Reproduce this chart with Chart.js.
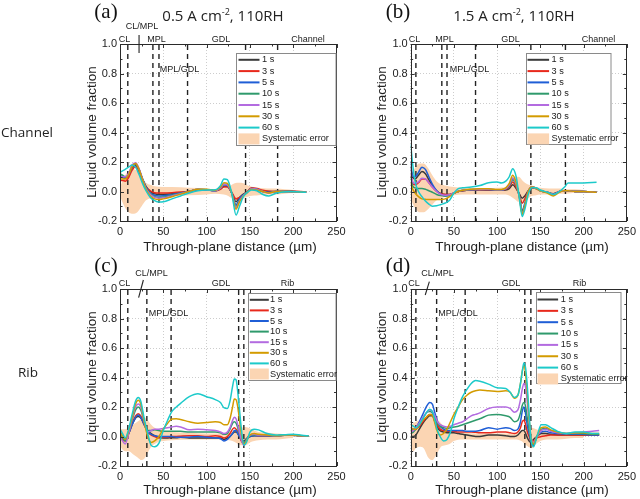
<!DOCTYPE html>
<html><head><meta charset="utf-8">
<script src="https://cdn.jsdelivr.net/npm/chart.js@4/dist/chart.umd.min.js"></script>
<style>
html,body{margin:0;padding:0;background:#fff;}
#wrap{position:relative;width:640px;height:499px;overflow:hidden;background:#fff;}
canvas{position:absolute;left:0;top:0;}
.t{position:absolute;transform:translate(-50%,-50%);white-space:nowrap;font-family:'Liberation Sans',Arial,sans-serif;color:#222;line-height:1;z-index:5;}
.pl{font-family:'Liberation Serif','Times New Roman',serif;font-size:21px;color:#111;}
.ti{font-family:'Open Sans',sans-serif;font-size:15px;color:#222;}
.ti span{font-size:9px;position:relative;top:-6px;}
.row{font-family:'Open Sans',sans-serif;font-size:13.5px;color:#222;}
.ax{font-size:13.5px;}
.yt{transform:translate(-50%,-50%) rotate(-90deg);}
.rg{font-size:9px;}
</style></head><body>
<div id="wrap">
<canvas id="ca" width="640" height="499"></canvas>
<canvas id="cb" width="640" height="499"></canvas>
<canvas id="cc" width="640" height="499"></canvas>
<canvas id="cd" width="640" height="499"></canvas>

<div class="t pl" style="left:106px;top:11px">(a)</div>
<div class="t pl" style="left:398px;top:11px">(b)</div>
<div class="t pl" style="left:106px;top:265px">(c)</div>
<div class="t pl" style="left:398px;top:265px">(d)</div>
<div class="t ti" style="left:223px;top:15px">0.5 A cm<span>-2</span>, 110RH</div>
<div class="t ti" style="left:514px;top:15px">1.5 A cm<span>-2</span>, 110RH</div>
<div class="t row" style="left:27px;top:133px">Channel</div>
<div class="t row" style="left:28px;top:373px">Rib</div>

<div class="t ax" style="left:230px;top:247px">Through-plane distance (µm)</div>
<div class="t ax" style="left:522px;top:247px">Through-plane distance (µm)</div>
<div class="t ax" style="left:230px;top:490px">Through-plane distance (µm)</div>
<div class="t ax" style="left:522px;top:490px">Through-plane distance (µm)</div>
<div class="t ax yt" style="left:92px;top:132px">Liquid volume fraction</div>
<div class="t ax yt" style="left:382px;top:132px">Liquid volume fraction</div>
<div class="t ax yt" style="left:92px;top:377px">Liquid volume fraction</div>
<div class="t ax yt" style="left:382px;top:377px">Liquid volume fraction</div>

<div class="t rg" style="left:124.5px;top:38.5px">CL</div>
<div class="t rg" style="left:142px;top:26px">CL/MPL</div>
<div class="t rg" style="left:156.5px;top:38.5px">MPL</div>
<div class="t rg" style="left:221px;top:38.5px">GDL</div>
<div class="t rg" style="left:308px;top:38.5px">Channel</div>
<div class="t rg" style="left:179.5px;top:69px">MPL/GDL</div>

<div class="t rg" style="left:414.5px;top:38.5px">CL</div>
<div class="t rg" style="left:444.5px;top:38.5px">MPL</div>
<div class="t rg" style="left:510.5px;top:38.5px">GDL</div>
<div class="t rg" style="left:598.5px;top:38.5px">Channel</div>
<div class="t rg" style="left:469.5px;top:69px">MPL/GDL</div>

<div class="t rg" style="left:124.5px;top:283px">CL</div>
<div class="t rg" style="left:151.5px;top:273px">CL/MPL</div>
<div class="t rg" style="left:221px;top:283px">GDL</div>
<div class="t rg" style="left:287.5px;top:283px">Rib</div>
<div class="t rg" style="left:168.5px;top:313px">MPL/GDL</div>

<div class="t rg" style="left:414px;top:283px">CL</div>
<div class="t rg" style="left:437.5px;top:273px">CL/MPL</div>
<div class="t rg" style="left:511px;top:283px">GDL</div>
<div class="t rg" style="left:579.5px;top:283px">Rib</div>
<div class="t rg" style="left:458px;top:313px">MPL/GDL</div>
</div>
<script>
// ---------- data ----------
const seriesNames = ['1 s','3 s','5 s','10 s','15 s','30 s','60 s'];
const bandName = 'Systematic error';
const xTicks = {min:0, max:250, step:50, minor:25};
const yTicks = {min:-0.2, max:1.0, step:0.2, minor:0.1};

// (a) channel, 0.5 A cm-2
const xA = [0,3,6,10,14,18,22,26,30,35,40,45,50,60,70,80,90,100,110,116,120,124,129,134,138,142,146,152,158,165,172,180,195,215];
const a1  = [0.10,0.095,0.09,0.11,0.16,0.175,0.14,0.085,0.035,0.0,-0.015,-0.02,-0.02,-0.015,-0.008,0.0,0.012,0.012,0.005,0.018,0.035,0.035,-0.01,-0.07,-0.04,-0.02,-0.005,0.02,0.015,0.0,0.0,0.0,0.0,-0.005];
const a3  = [0.075,0.075,0.07,0.095,0.145,0.17,0.135,0.075,0.03,0.005,-0.008,-0.01,-0.01,-0.008,-0.004,0.002,0.012,0.01,0.005,0.015,0.03,0.03,-0.005,-0.05,-0.04,-0.03,-0.01,0.025,0.02,0.008,0.002,0.0,0.005,-0.003];
const a5  = [0.11,0.10,0.095,0.115,0.165,0.185,0.15,0.085,0.03,-0.01,-0.025,-0.03,-0.028,-0.02,-0.01,0.0,0.014,0.012,0.005,0.022,0.045,0.04,-0.01,-0.09,-0.05,-0.025,-0.01,0.02,0.015,0.0,-0.005,0.0,0.0,-0.005];
const a10 = [0.12,0.11,0.10,0.12,0.17,0.19,0.15,0.085,0.025,-0.015,-0.035,-0.04,-0.038,-0.025,-0.012,0.0,0.015,0.012,0.005,0.025,0.05,0.045,-0.01,-0.10,-0.06,-0.03,-0.01,0.02,0.015,0.0,-0.008,0.0,0.0,-0.005];
const a15 = [0.10,0.10,0.10,0.125,0.18,0.195,0.155,0.085,0.02,-0.02,-0.04,-0.045,-0.043,-0.03,-0.015,0.0,0.015,0.012,0.005,0.025,0.05,0.045,-0.01,-0.11,-0.065,-0.03,-0.01,0.02,0.015,0.0,-0.01,0.0,0.0,-0.005];
const a30 = [0.085,0.085,0.085,0.115,0.17,0.19,0.15,0.08,0.015,-0.03,-0.05,-0.055,-0.05,-0.035,-0.018,0.0,0.016,0.015,0.008,0.03,0.06,0.055,-0.01,-0.12,-0.07,-0.035,-0.01,0.015,0.01,0.0,-0.01,0.0,0.0,-0.005];
const a60 = [0.13,0.14,0.15,0.165,0.18,0.165,0.115,0.055,0.005,-0.04,-0.062,-0.072,-0.07,-0.05,-0.03,-0.01,0.005,0.01,0.012,0.04,0.085,0.08,-0.01,-0.16,-0.10,-0.04,-0.01,0.01,0.005,-0.02,-0.03,-0.012,0.0,-0.005];
const bandAx  = [0,5,10,15,20,25,30,35,40,50,60,80,100,110,120,125,130,135,140,145,150,160,170,180,190,200];
const bandAlo = [-0.03,-0.1,-0.14,-0.15,-0.14,-0.1,-0.06,-0.045,-0.035,-0.03,-0.03,-0.025,-0.02,-0.015,-0.02,-0.03,-0.05,-0.06,-0.05,-0.04,-0.03,-0.025,-0.02,-0.02,-0.015,-0.01];
const bandAhi = [0.03,0.1,0.14,0.15,0.14,0.1,0.06,0.045,0.035,0.03,0.03,0.025,0.02,0.015,0.02,0.03,0.05,0.06,0.06,0.05,0.035,0.025,0.02,0.02,0.015,0.01];
const boundsA = [9,38,45,78,145,182];

// (b) channel, 1.5 A cm-2
const xB = [0,2,5,9,13,17,21,25,30,35,40,45,50,55,60,70,80,90,100,105,110,114,118,122,126,129,132,136,140,145,150,158,165,172,178,182,190,200,215];
const b1  = [0.17,0.1,0.085,0.11,0.135,0.12,0.08,0.04,0.005,-0.015,-0.02,-0.02,-0.01,0.0,0.005,0.01,0.012,0.01,0.008,0.008,0.01,0.02,0.045,0.02,-0.02,-0.045,-0.03,0.005,0.025,0.02,0.005,-0.005,-0.015,0.0,0.005,0.005,0.0,0.0,-0.005];
const b3  = [0.12,0.06,0.045,0.06,0.085,0.085,0.06,0.03,0.0,-0.015,-0.02,-0.02,-0.01,0.0,0.005,0.01,0.012,0.012,0.01,0.01,0.015,0.03,0.065,0.03,-0.03,-0.08,-0.05,0.0,0.025,0.02,0.005,-0.005,-0.02,0.0,0.005,0.005,0.0,0.0,-0.005];
const b5  = [0.2,0.11,0.1,0.13,0.165,0.15,0.1,0.05,0.005,-0.02,-0.03,-0.028,-0.012,0.0,0.006,0.012,0.014,0.014,0.01,0.01,0.02,0.04,0.09,0.05,-0.04,-0.13,-0.08,0.0,0.03,0.022,0.005,-0.005,-0.02,0.0,0.005,0.005,0.0,0.0,-0.005];
const b10 = [0.1,0.04,0.025,0.02,0.02,0.015,0.005,-0.005,-0.02,-0.028,-0.03,-0.025,-0.01,0.0,0.008,0.014,0.016,0.016,0.012,0.012,0.02,0.04,0.08,0.045,-0.04,-0.14,-0.09,0.0,0.03,0.022,0.005,-0.005,-0.02,0.0,0.005,0.005,0.0,0.0,-0.005];
const b15 = [0.15,0.07,0.055,0.065,0.09,0.085,0.06,0.03,0.0,-0.02,-0.025,-0.022,-0.01,0.0,0.008,0.014,0.016,0.016,0.012,0.012,0.02,0.045,0.09,0.05,-0.05,-0.15,-0.1,0.0,0.03,0.022,0.005,-0.005,-0.02,0.0,0.005,0.005,0.0,0.0,-0.005];
const b30 = [0.06,0.02,-0.01,-0.035,-0.05,-0.053,-0.055,-0.055,-0.055,-0.055,-0.05,-0.035,-0.012,0.0,0.008,0.015,0.018,0.018,0.014,0.014,0.025,0.055,0.11,0.06,-0.05,-0.155,-0.1,0.0,0.03,0.022,0.005,-0.01,-0.03,-0.005,0.005,0.005,0.0,0.0,-0.005];
const b60 = [0.32,0.2,0.07,0.0,-0.035,-0.065,-0.085,-0.1,-0.097,-0.088,-0.078,-0.06,-0.01,0.02,0.025,0.03,0.04,0.06,0.064,0.057,0.07,0.1,0.155,0.1,-0.06,-0.17,-0.12,-0.02,0.025,0.025,0.01,-0.005,-0.02,0.0,0.03,0.057,0.057,0.058,0.062];
const bandBx  = [0,3,6,10,15,20,25,30,35,40,50,60,80,100,110,115,120,125,130,135,140,145,150,160,170,180,190,200];
const bandBlo = [-0.05,-0.09,-0.12,-0.14,-0.14,-0.12,-0.09,-0.06,-0.045,-0.035,-0.025,-0.02,-0.02,-0.02,-0.02,-0.03,-0.05,-0.07,-0.07,-0.05,-0.03,-0.025,-0.02,-0.02,-0.015,-0.015,-0.01,-0.01];
const bandBhi = [0.1,0.14,0.17,0.19,0.19,0.16,0.11,0.07,0.05,0.04,0.03,0.025,0.02,0.025,0.03,0.06,0.1,0.1,0.07,0.05,0.04,0.03,0.025,0.02,0.02,0.015,0.015,0.01];
const boundsB = [6,36,42,75,139,179];

// (c) rib, 0.5 A cm-2
const xC = [0,3,6,10,14,18,21,24,28,32,36,40,45,50,55,60,65,70,80,90,100,110,116,120,124,127,130,132,134,136,138,140,143,146,150,155,160,170,180,190,200,210,218];
const c1  = [0.03,0.0,-0.02,0.02,0.08,0.125,0.135,0.125,0.08,0.04,0.02,0.005,-0.005,-0.01,-0.01,-0.008,-0.008,-0.005,-0.01,-0.01,-0.01,-0.01,-0.01,-0.02,-0.01,0.0,0.02,0.03,0.03,0.02,0.0,-0.02,-0.03,-0.015,0.0,0.005,0.005,0.005,0.005,0.008,0.008,0.005,0.005];
const c3  = [0.0,-0.02,-0.03,0.02,0.09,0.14,0.155,0.14,0.08,0.03,0.01,0.0,-0.01,-0.005,-0.003,0.0,0.0,0.002,0.005,0.005,0.0,0.005,0.0,-0.01,0.0,0.02,0.05,0.06,0.05,0.03,0.0,-0.03,-0.05,-0.02,0.005,0.008,0.005,0.005,0.005,0.008,0.008,0.005,0.005];
const c5  = [0.01,-0.01,-0.02,0.02,0.08,0.13,0.145,0.13,0.08,0.035,0.015,0.005,0.0,0.0,0.0,0.0,-0.005,-0.005,-0.005,0.0,-0.005,-0.01,-0.015,-0.03,-0.02,0.0,0.02,0.04,0.04,0.02,0.0,-0.02,-0.04,-0.02,0.0,0.005,0.005,0.005,0.005,0.008,0.008,0.005,0.005];
const c10 = [0.02,-0.01,-0.03,0.03,0.11,0.18,0.2,0.18,0.1,0.04,0.04,0.045,0.04,0.035,0.035,0.035,0.035,0.035,0.03,0.03,0.03,0.03,0.025,0.015,0.02,0.05,0.09,0.1,0.09,0.06,0.02,-0.02,-0.05,-0.02,0.01,0.01,0.01,0.008,0.005,0.01,0.01,0.005,0.005];
const c15 = [0.0,-0.03,-0.05,0.02,0.12,0.2,0.22,0.2,0.1,0.03,0.04,0.05,0.05,0.055,0.06,0.065,0.07,0.065,0.045,0.05,0.045,0.04,0.03,0.02,0.03,0.06,0.11,0.13,0.12,0.08,0.03,-0.02,-0.06,-0.03,0.01,0.015,0.01,0.01,0.005,0.01,0.01,0.005,0.005];
const c30 = [0.03,0.0,-0.02,0.04,0.13,0.22,0.245,0.22,0.1,0.0,-0.04,-0.03,0.0,0.05,0.09,0.118,0.12,0.115,0.1,0.09,0.095,0.1,0.095,0.08,0.08,0.12,0.2,0.255,0.25,0.2,0.11,0.02,-0.05,-0.03,0.01,0.02,0.015,0.01,0.005,0.01,0.01,0.005,0.005];
const c60 = [0.05,0.02,-0.01,0.05,0.15,0.24,0.265,0.24,0.12,0.02,-0.06,-0.07,-0.045,0.04,0.11,0.17,0.2,0.225,0.27,0.29,0.27,0.25,0.23,0.195,0.19,0.24,0.34,0.39,0.385,0.3,0.18,0.06,-0.06,-0.04,0.03,0.05,0.045,0.02,0.01,0.012,0.015,0.008,0.005];
const bandCx  = [0,3,6,10,15,20,25,28,32,36,40,45,50,60,80,100,120,126,130,135,140,145,150,155,160,170,180,190,200];
const bandClo = [-0.06,-0.09,-0.1,-0.1,-0.12,-0.14,-0.16,-0.15,-0.11,-0.07,-0.05,-0.035,-0.03,-0.025,-0.02,-0.02,-0.02,-0.025,-0.03,-0.045,-0.06,-0.06,-0.04,-0.03,-0.025,-0.02,-0.02,-0.015,-0.01];
const bandChi = [0.05,0.05,0.05,0.06,0.08,0.1,0.12,0.13,0.11,0.08,0.06,0.045,0.035,0.03,0.025,0.02,0.02,0.025,0.035,0.05,0.06,0.065,0.055,0.04,0.03,0.025,0.02,0.015,0.01];
const boundsC = [9,31,59,137,143];

// (d) rib, 1.5 A cm-2
const xD = [0,3,6,10,14,18,22,25,28,31,34,38,42,46,50,55,60,65,70,75,80,90,100,110,115,120,124,127,129,131,133,135,137,139,142,146,151,156,162,170,180,190,200,210,218];
const d1  = [0.0,0.0,0.01,0.05,0.09,0.12,0.14,0.14,0.1,0.06,0.04,0.03,0.025,0.025,0.025,0.02,0.015,0.01,0.005,0.0,0.0,0.01,0.01,0.005,0.0,0.0,0.01,0.03,0.04,0.04,0.02,-0.01,-0.03,-0.04,-0.02,0.0,0.02,0.02,0.015,0.01,0.01,0.01,0.01,0.01,0.01];
const d3  = [0.03,0.04,0.05,0.07,0.1,0.13,0.15,0.15,0.12,0.08,0.05,0.04,0.035,0.035,0.035,0.03,0.03,0.03,0.03,0.028,0.025,0.025,0.03,0.03,0.025,0.02,0.03,0.06,0.1,0.11,0.08,0.03,0.0,-0.03,-0.03,-0.01,0.0,0.005,0.01,0.01,0.01,0.01,0.01,0.01,0.01];
const d5  = [0.05,0.05,0.06,0.1,0.15,0.2,0.23,0.22,0.16,0.1,0.07,0.05,0.04,0.04,0.04,0.04,0.04,0.035,0.035,0.035,0.04,0.06,0.05,0.06,0.055,0.04,0.05,0.1,0.17,0.2,0.15,0.07,0.02,-0.03,-0.06,0.0,0.03,0.035,0.025,0.02,0.015,0.015,0.015,0.01,0.01];
const d10 = [0.02,0.03,0.05,0.08,0.12,0.16,0.17,0.16,0.12,0.09,0.07,0.06,0.055,0.06,0.065,0.07,0.08,0.09,0.1,0.11,0.12,0.145,0.15,0.14,0.13,0.1,0.11,0.16,0.21,0.23,0.2,0.12,0.05,-0.02,-0.05,0.0,0.05,0.055,0.04,0.025,0.02,0.02,0.02,0.015,0.015];
const d15 = [0.03,0.04,0.06,0.09,0.13,0.16,0.18,0.17,0.14,0.1,0.08,0.07,0.065,0.07,0.08,0.09,0.1,0.12,0.14,0.15,0.16,0.19,0.2,0.2,0.19,0.165,0.18,0.25,0.32,0.36,0.33,0.22,0.1,0.0,-0.04,0.0,0.04,0.05,0.035,0.025,0.02,0.025,0.03,0.035,0.04];
const d30 = [0.06,0.05,0.05,0.08,0.11,0.13,0.15,0.145,0.09,0.03,0.01,0.02,0.05,0.1,0.15,0.2,0.25,0.28,0.3,0.31,0.315,0.31,0.305,0.31,0.3,0.26,0.28,0.36,0.44,0.48,0.42,0.28,0.12,0.0,-0.05,0.0,0.06,0.065,0.045,0.03,0.02,0.025,0.025,0.02,0.02];
const d60 = [0.08,0.07,0.06,0.08,0.12,0.16,0.185,0.17,0.11,0.04,0.0,-0.03,-0.02,0.03,0.12,0.2,0.27,0.32,0.36,0.38,0.375,0.355,0.33,0.325,0.3,0.265,0.28,0.36,0.44,0.5,0.46,0.33,0.15,-0.01,-0.07,0.0,0.08,0.08,0.06,0.035,0.02,0.03,0.03,0.02,0.02];
const bandDx  = [0,3,6,10,15,20,25,30,35,40,45,50,60,80,100,120,128,132,136,140,145,150,160,170,180,190,200];
const bandDlo = [-0.07,-0.1,-0.08,-0.07,-0.08,-0.14,-0.16,-0.12,-0.07,-0.06,-0.05,-0.03,-0.02,-0.02,-0.02,-0.02,-0.03,-0.05,-0.07,-0.08,-0.05,-0.03,-0.02,-0.02,-0.015,-0.01,-0.01];
const bandDhi = [0.08,0.09,0.1,0.11,0.12,0.13,0.14,0.12,0.09,0.06,0.045,0.03,0.025,0.02,0.02,0.02,0.03,0.04,0.05,0.06,0.05,0.04,0.025,0.02,0.015,0.015,0.01];
const boundsD = [6,30,63,132,139];

// ---------- style ----------
const COLORS = ['#3a3a3a','#e8291c','#1f5ed6','#2f9a6c','#b36be0','#d39b00','#1ccaca'];
const BAND = '#fbd5b3';
const FONT = "'Liberation Sans', Arial, sans-serif";

const panels = [
  {id:'ca', x:xA, ys:[a1,a3,a5,a10,a15,a30,a60], bx:bandAx, blo:bandAlo, bhi:bandAhi, bounds:boundsA,
   pad:{left:80, top:44, right:303.5, bottom:248},
   leg:{dx:115.7, dy:9, rin:0, h:92, row0:6.3, step:11.3, lx0:2, lx1:23, tx:25.5},
   mark:{x1:22, dy1:-9, x2:22, dy2:9}},
  {id:'cb', x:xB, ys:[b1,b3,b5,b10,b15,b30,b60], bx:bandBx, blo:bandBlo, bhi:bandBhi, bounds:boundsB,
   pad:{left:370.7, top:44, right:7, bottom:248},
   leg:{dx:115, dy:9, rin:15, h:91, row0:6.3, step:11.3, lx0:1, lx1:22.6, tx:25}},
  {id:'cc', x:xC, ys:[c1,c3,c5,c10,c15,c30,c60], bx:bandCx, blo:bandClo, bhi:bandChi, bounds:boundsC,
   pad:{left:80, top:289, right:303.5, bottom:3},
   leg:{dx:127.7, dy:3.7, rin:0, h:87, row0:6.3, step:10.6, lx0:1.3, lx1:20.3, tx:21.6},
   mark:{x1:27, dy1:-9, x2:21.5, dy2:8.7}},
  {id:'cd', x:xD, ys:[d1,d3,d5,d10,d15,d30,d60], bx:bandDx, blo:bandDlo, bhi:bandDhi, bounds:boundsD,
   pad:{left:370.7, top:289, right:7, bottom:3},
   leg:{dx:125, dy:3.3, rin:5, h:91, row0:7, step:11.35, lx0:1, lx1:21.6, tx:24.3},
   mark:{x1:21.6, dy1:-7.3, x2:16.8, dy2:6}}
];

const deco = {
  id:'deco',
  afterDraw(chart, args, o){
    const {ctx, chartArea:ca, scales:{x, y}} = chart;
    ctx.save();
    ctx.strokeStyle = '#333'; ctx.lineWidth = 1;
    const seg = (x0,y0,x1,y1)=>{ctx.beginPath();ctx.moveTo(x0,y0);ctx.lineTo(x1,y1);ctx.stroke();};
    for (let v = xTicks.min; v <= xTicks.max + 1e-9; v += xTicks.minor){
      const px = Math.round(x.getPixelForValue(v)) + 0.5;
      const L = (Math.abs(v % xTicks.step) < 1e-9) ? 4 : 2.5;
      seg(px, ca.bottom, px, ca.bottom - L);
      seg(px, ca.top, px, ca.top + L);
    }
    const nMinor = Math.round((yTicks.max - yTicks.min) / yTicks.minor);
    for (let k = 0; k <= nMinor; k++){
      const v = yTicks.min + k * yTicks.minor;
      const py = Math.round(y.getPixelForValue(v)) + 0.5;
      const L = (k % 2 === 0) ? 4 : 2.5;
      seg(ca.left, py, ca.left + L, py);
      seg(ca.right, py, ca.right - L, py);
    }
    ctx.strokeStyle = '#2a2a2a';
    ctx.strokeRect(Math.round(ca.left)+0.5, Math.round(ca.top)+0.5, Math.round(ca.right-ca.left)-1, Math.round(ca.bottom-ca.top));
    if (o.mark){
      ctx.strokeStyle = '#222'; ctx.lineWidth = 1.1;
      seg(x.getPixelForValue(o.mark.x1), ca.top + o.mark.dy1, x.getPixelForValue(o.mark.x2), ca.top + o.mark.dy2);
    }
    const L = o.leg;
    const bx = Math.round(ca.left + L.dx) + 0.5, by = Math.round(ca.top + L.dy) + 0.5;
    const bw = Math.round(ca.right - L.rin - bx) - 0.5;
    ctx.fillStyle = '#fff'; ctx.fillRect(bx, by, bw, L.h);
    ctx.strokeStyle = '#8a8a8a'; ctx.lineWidth = 1; ctx.strokeRect(bx, by, bw, L.h);
    ctx.font = "9.2px " + FONT; ctx.textBaseline = 'middle'; ctx.textAlign = 'left';
    seriesNames.forEach((n, i)=>{
      const yy = by + L.row0 + i * L.step;
      ctx.strokeStyle = COLORS[i]; ctx.lineWidth = 2;
      seg(bx + L.lx0, yy, bx + L.lx1, yy);
      ctx.fillStyle = '#222'; ctx.fillText(n, bx + L.tx, yy);
    });
    const ys = by + L.row0 + 7 * L.step;
    ctx.fillStyle = BAND; ctx.fillRect(bx + L.lx0, ys - 5.5, L.lx1 - L.lx0, 11);
    ctx.fillStyle = '#222'; ctx.fillText(bandName, bx + L.tx, ys);
    ctx.restore();
  }
};

const fmtY = v => Math.abs(v) < 1e-9 ? '0.0' : v.toFixed(1);
const pts = (xs, ys) => xs.map((v, i) => ({x: v, y: ys[i]}));

panels.forEach(p => {
  const ds = [];
  p.ys.forEach((ys, i) => ds.push({
    label: seriesNames[i], data: pts(p.x, ys), borderColor: COLORS[i], borderWidth: 1.5,
    pointRadius: 0, cubicInterpolationMode: 'monotone', fill: false, order: 7 - i
  }));
  p.bounds.forEach(b => ds.push({
    label: 'boundary', data: [{x:b, y:yTicks.min}, {x:b, y:yTicks.max}], borderColor: '#222',
    borderWidth: 1.4, borderDash: [5,4], pointRadius: 0, fill: false, order: 20
  }));
  ds.push({label: bandName + ' hi', data: pts(p.bx, p.bhi), borderWidth: 0, borderColor: 'rgba(0,0,0,0)',
    backgroundColor: BAND, pointRadius: 0, cubicInterpolationMode: 'monotone', fill: '+1', order: 30});
  ds.push({label: bandName + ' lo', data: pts(p.bx, p.blo), borderWidth: 0, borderColor: 'rgba(0,0,0,0)',
    pointRadius: 0, cubicInterpolationMode: 'monotone', fill: false, order: 31});

  new Chart(document.getElementById(p.id), {
    type: 'line',
    data: {datasets: ds},
    options: {
      responsive: false, animation: false, devicePixelRatio: 1,
      layout: {padding: p.pad, autoPadding: false},
      plugins: {legend: {display: false}, tooltip: {enabled: false}, deco: {leg: p.leg, mark: p.mark}},
      scales: {
        x: {type: 'linear', min: xTicks.min, max: xTicks.max,
            ticks: {stepSize: xTicks.step, padding: 4, maxRotation: 0, color: '#222', font: {family: FONT, size: 11}},
            grid: {color: '#cdcdcd', drawTicks: false}, border: {display: false, dash: [1,2]},
            afterFit(s){ s.height = 30; }},
        y: {type: 'linear', min: yTicks.min, max: yTicks.max,
            ticks: {stepSize: yTicks.step, padding: 3, color: '#222', font: {family: FONT, size: 11}, callback: fmtY},
            grid: {color: '#cdcdcd', drawTicks: false}, border: {display: false, dash: [1,2]},
            afterFit(s){ s.width = 40; }}
      }
    },
    plugins: [deco]
  });
});
</script>
</body></html>
